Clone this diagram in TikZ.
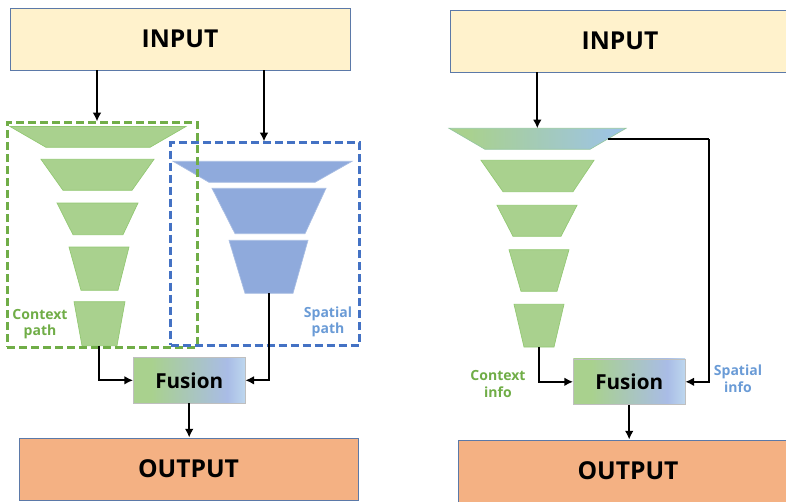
\documentclass[tikz,border=0pt]{standalone}
\usepackage{fontspec}
\setmainfont{Open Sans}
\usetikzlibrary{arrows.meta}

\definecolor{inyel}{HTML}{FFF2CC}
\definecolor{outor}{HTML}{F4B183}
\definecolor{boxedge}{HTML}{5B79A8}
\definecolor{gfill}{HTML}{A9D18E}
\definecolor{gedge}{HTML}{92C872}
\definecolor{bfill}{HTML}{8FAADC}
\definecolor{bedge}{HTML}{A9BEE3}
\definecolor{gdash}{HTML}{70AD47}
\definecolor{bdash}{HTML}{4472C4}
\definecolor{gtext}{HTML}{70AD47}
\definecolor{btext}{HTML}{6A9BD6}
\definecolor{fgreen}{HTML}{A9D18E}
\definecolor{fperi}{HTML}{A9BCE6}
\definecolor{flight}{HTML}{BDD7EE}
\definecolor{tblue}{HTML}{9DC3E6}

% fusion box: green on the left, periwinkle, light blue at the right edge
\pgfdeclarehorizontalshading{fusshade}{100bp}{color(0bp)=(fgreen); color(25bp)=(fgreen); color(33bp)=(fgreen); color(67bp)=(fperi); color(75bp)=(flight); color(100bp)=(flight)}
% first stage of the single-path encoder: green to light blue
\pgfdeclarehorizontalshading{topshade}{100bp}{color(0bp)=(fgreen); color(25bp)=(fgreen); color(30bp)=(fgreen); color(73bp)=(tblue); color(100bp)=(tblue)}

\tikzset{
  iobox/.style={draw=boxedge, line width=0.7pt, inner sep=0pt,
    minimum width=255pt, minimum height=46.5pt,
    font=\bfseries\fontsize{18.5}{20}\selectfont},
  fusbox/.style={draw=black!25, line width=0.4pt, shading=fusshade, inner sep=0pt,
    minimum width=83.8pt, minimum height=34.3pt,
    font=\bfseries\fontsize{15.5}{17}\selectfont},
  gtrap/.style={fill=gfill, draw=gedge, line width=0.5pt},
  btrap/.style={fill=bfill, draw=bedge, line width=0.5pt},
  dashbox/.style={line width=1.9pt, dash pattern=on 6pt off 3pt, inner sep=0pt},
  arr/.style={line width=1.6pt, -{Latex[length=6.5pt,width=6.5pt]}},
  lbl/.style={font=\bfseries\fontsize{10.5}{12.5}\selectfont, align=center, inner sep=0pt}
}

\begin{document}
\begin{tikzpicture}[x=0.75pt,y=-0.75pt]
\useasboundingbox (0,0) rectangle (786,501);

% ---------------- left: two-path network ----------------
\node[iobox, fill=inyel] (inL) at (180,39) {INPUT};
\node[iobox, fill=outor, minimum width=254.3pt] (oL) at (188.5,469) {OUTPUT};

% context path stages
\path[gtrap] (10,126.5) -- (186,126.5) -- (150,147.3) -- (46,147.3) -- cycle;
\path[gtrap] (41,159.3) -- (154,159.3) -- (132,190.3) -- (63,190.3) -- cycle;
\path[gtrap] (57,203) -- (138,203) -- (123,234.7) -- (73,234.7) -- cycle;
\path[gtrap] (69,247) -- (129,247) -- (118,290.3) -- (81,290.3) -- cycle;
\path[gtrap] (74,301.7) -- (125,301.7) -- (117,345.7) -- (82,345.7) -- cycle;
\coordinate (g5) at (99,345.7);

% spatial path stages
\path[btrap] (173,161.3) -- (352,161.3) -- (315,182.3) -- (209,182.3) -- cycle;
\path[btrap] (212,188.3) -- (326,188.3) -- (305,233.7) -- (235,233.7) -- cycle;
\path[btrap] (229,240.3) -- (308,240.3) -- (293,293.3) -- (245,293.3) -- cycle;
\coordinate (b3) at (269,293.3);

% path frames
\node[dashbox, draw=gdash, minimum width=142.5pt, minimum height=168.5pt] (cbox) at (102.3,235) {};
\node[dashbox, draw=bdash, minimum width=141.5pt, minimum height=152pt] (sbox) at (265,244) {};

\node[lbl, text=gtext] (cl) at (40,324) {Context\\path};
\node[lbl, text=btext] (sl) at (328,322) {Spatial\\path};

\node[fusbox] (fL) at (189.2,380.3) {Fusion};

\coordinate (xa) at (97,0);
\coordinate (xb) at (264,0);
\draw[arr] (xa |- inL.south) -- (xa |- cbox.north);
\draw[arr] (xb |- inL.south) -- (xb |- sbox.north);
\draw[arr] (g5) |- (fL.west);
\draw[arr] (b3) |- (fL.east);
\draw[arr] (fL.south) -- (fL.south |- oL.north);

% ---------------- right: single encoder ----------------
\node[iobox, fill=inyel] (inR) at (620,41) {INPUT};
\node[iobox, fill=outor] (oR) at (628,471) {OUTPUT};

\path[shading=topshade, draw=gedge!60!tblue, line width=0.5pt] (449,128.3) -- (626,128.3) -- (590,149.3) -- (485,149.3) -- cycle;
\path[gtrap] (481,160.3) -- (594,160.3) -- (573,191.7) -- (503,191.7) -- cycle;
\path[gtrap] (497,205.3) -- (577,205.3) -- (561,236.3) -- (513,236.3) -- cycle;
\path[gtrap] (509,249.7) -- (569,249.7) -- (557,291.3) -- (521,291.3) -- cycle;
\path[gtrap] (514,304.3) -- (564,304.3) -- (554,347) -- (524,347) -- cycle;
\coordinate (t1) at (537.3,128.3);
\coordinate (sp) at (607.7,139);
\coordinate (bend) at (709.3,139);
\coordinate (r5) at (539,347);

\node[fusbox] (fR) at (629.2,381.8) {Fusion};

\node[lbl, text=gtext] (ci) at (498,384) {Context\\info};
\node[lbl, text=btext] (si) at (738,379) {Spatial\\info};

\draw[arr] (t1 |- inR.south) -- (t1);
\draw[line width=1.6pt] (sp) -- (bend);
\draw[arr] (bend) |- (fR.east);
\draw[arr] (r5) |- (fR.west);
\draw[arr] (fR.south) -- (fR.south |- oR.north);
\end{tikzpicture}
\end{document}
